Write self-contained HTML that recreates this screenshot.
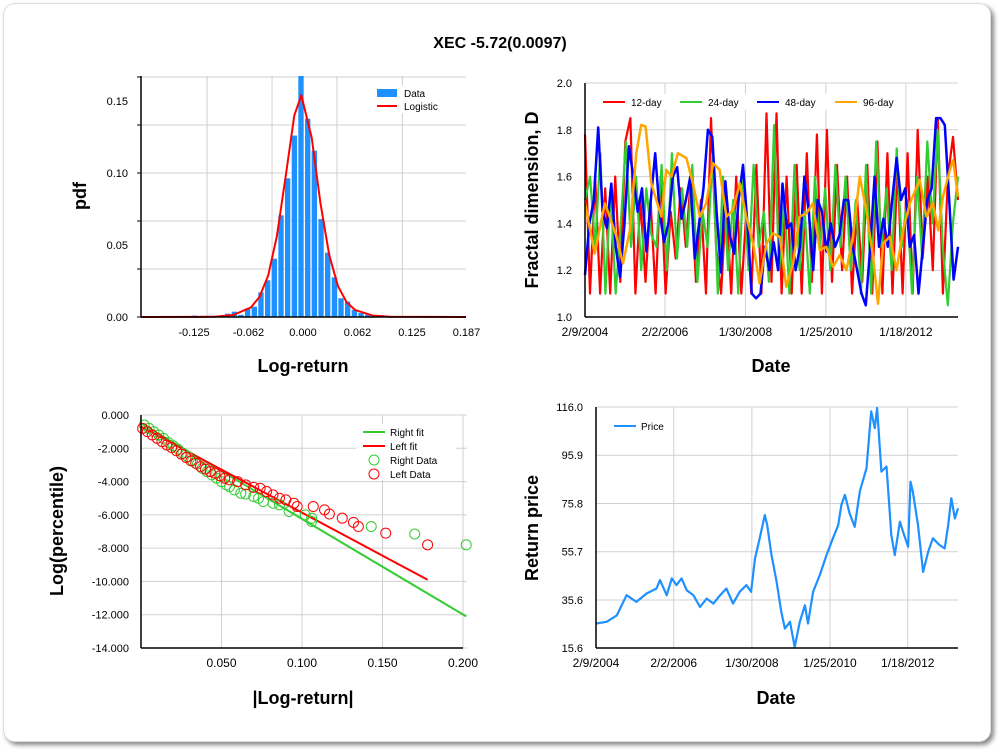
<!DOCTYPE html>
<html><head><meta charset="utf-8"><style>
body{margin:0;background:#fff;width:1000px;height:750px;overflow:hidden;font-family:"Liberation Sans",sans-serif}
#frame{position:absolute;left:3px;top:3px;width:986px;height:737px;border:1px solid #ddd;border-radius:12px;box-shadow:3px 3px 5px #888;background:#fff}
svg{position:absolute;left:0;top:0}
text{font-family:"Liberation Sans",sans-serif}
</style></head><body>
<div id="frame"></div>
<svg id="s" width="1000" height="750"></svg>
<script>
// ---- histogram data ----
const histCenters=[-0.1246,-0.0940,-0.0864,-0.0787,-0.0711,-0.0635,-0.0558,-0.0482,-0.0405,-0.0329,-0.0252,-0.0176,-0.0099,-0.0023,0.0054,0.0130,0.0207,0.0283,0.0360,0.0436,0.0512,0.0589,0.0665,0.0742,0.0818,0.0895,0.1200,0.1500];
const histValues=[0.001,0.001,0.0023,0.0037,0.0015,0.006,0.0072,0.0171,0.0255,0.0405,0.0706,0.0963,0.126,0.17,0.1377,0.1155,0.068,0.0447,0.0275,0.013,0.0107,0.005,0.0028,0.0016,0.001,0.0014,0.0005,0.0005];
const fitX=[-0.186,-0.12,-0.10,-0.08,-0.06,-0.05,-0.04,-0.03,-0.02,-0.01,-0.002,0.01,0.02,0.03,0.04,0.05,0.06,0.08,0.10,0.187];
const fitY=[0,0.0001,0.0003,0.0014,0.0065,0.0138,0.0286,0.0558,0.0973,0.140,0.154,0.1246,0.0793,0.0431,0.0215,0.0103,0.0048,0.001,0.0002,0];
const pdfXTicks=[-0.125,-0.0625,0,0.0625,0.125,0.1875];
const pdfXLabels=["-0.125","-0.062","0.000","0.062","0.125","0.187"];
const pdfYTicks=[0,0.05,0.10,0.15];
const pdfYLabels=["0.00","0.05","0.10","0.15"];
// ---- fractal dimension data ----
const fdStart=2004.11, fdEnd=2013.34;
const red12=[1.78,1.1,1.6,1.1,1.55,1.1,1.6,1.15,1.75,1.85,1.1,1.5,1.15,1.5,1.1,1.6,1.1,1.45,1.25,1.55,1.3,1.6,1.15,1.5,1.1,1.85,1.3,1.1,1.5,1.1,1.6,1.1,1.45,1.1,1.65,1.1,1.87,1.15,1.87,1.1,1.6,1.1,1.65,1.1,1.7,1.15,1.78,1.1,1.8,1.15,1.65,1.2,1.6,1.1,1.5,1.15,1.65,1.1,1.75,1.1,1.7,1.1,1.65,1.1,1.7,1.1,1.8,1.25,1.6,1.2,1.85,1.1,1.6,1.77,1.5];
const green24=[1.5,1.6,1.3,1.7,1.1,1.55,1.1,1.4,1.75,1.3,1.6,1.2,1.55,1.35,1.3,1.65,1.2,1.7,1.25,1.55,1.3,1.65,1.15,1.45,1.3,1.7,1.1,1.6,1.2,1.5,1.1,1.6,1.2,1.65,1.3,1.45,1.15,1.82,1.2,1.5,1.1,1.65,1.2,1.45,1.1,1.6,1.3,1.55,1.2,1.65,1.3,1.6,1.2,1.5,1.1,1.65,1.1,1.75,1.3,1.55,1.2,1.72,1.3,1.5,1.1,1.6,1.25,1.75,1.4,1.8,1.3,1.05,1.4,1.6];
const blue48=[1.18,1.4,1.5,1.81,1.45,1.38,1.57,1.3,1.17,1.4,1.73,1.6,1.45,1.55,1.28,1.5,1.7,1.45,1.32,1.4,1.6,1.64,1.42,1.5,1.6,1.25,1.4,1.55,1.8,1.77,1.45,1.19,1.58,1.35,1.27,1.5,1.65,1.4,1.1,1.08,1.1,1.3,1.2,1.32,1.2,1.57,1.38,1.4,1.2,1.3,1.6,1.45,1.2,1.5,1.45,1.28,1.4,1.3,1.35,1.5,1.5,1.3,1.2,1.1,1.05,1.3,1.6,1.3,1.42,1.3,1.5,1.68,1.5,1.55,1.3,1.35,1.1,1.3,1.5,1.55,1.85,1.85,1.82,1.5,1.16,1.3];
const orange96Dates=[2004.11,2004.35,2004.60,2004.72,2004.89,2005.05,2005.22,2005.38,2005.50,2005.61,2005.75,2006.00,2006.12,2006.25,2006.41,2006.62,2006.78,2006.95,2007.11,2007.28,2007.44,2007.61,2007.77,2007.94,2008.10,2008.27,2008.43,2008.60,2008.76,2008.93,2009.09,2009.26,2009.42,2009.59,2009.75,2009.92,2010.08,2010.25,2010.41,2010.58,2010.74,2010.91,2011.07,2011.24,2011.36,2011.49,2011.65,2011.82,2011.98,2012.15,2012.39,2012.56,2012.72,2012.85,2012.97,2013.14,2013.22,2013.34];
const orange96=[1.486,1.271,1.486,1.429,1.343,1.229,1.371,1.7,1.821,1.814,1.571,1.429,1.629,1.6,1.7,1.679,1.571,1.429,1.486,1.657,1.629,1.429,1.457,1.571,1.429,1.314,1.143,1.314,1.357,1.343,1.129,1.229,1.429,1.443,1.486,1.286,1.3,1.214,1.264,1.2,1.343,1.6,1.457,1.257,1.057,1.314,1.343,1.2,1.371,1.486,1.586,1.429,1.486,1.371,1.514,1.629,1.671,1.514];
const dateTicks=[2004.11,2006.09,2008.08,2010.07,2012.05];
const dateLabels=["2/9/2004","2/2/2006","1/30/2008","1/25/2010","1/18/2012"];
const fdYTicks=[1.0,1.2,1.4,1.6,1.8,2.0];
// ---- tail data ----
const rightX=[0.002,0.005,0.008,0.011,0.014,0.017,0.02,0.023,0.026,0.029,0.032,0.035,0.038,0.041,0.044,0.047,0.05,0.053,0.055,0.058,0.062,0.065,0.07,0.073,0.076,0.082,0.086,0.092,0.102,0.106,0.106,0.143,0.17,0.202];
const rightY=[-0.6,-0.8,-1.0,-1.2,-1.4,-1.65,-1.85,-2.05,-2.3,-2.5,-2.75,-2.95,-3.2,-3.4,-3.6,-3.8,-4.0,-4.2,-4.3,-4.5,-4.7,-4.75,-4.9,-5.0,-5.2,-5.3,-5.4,-5.8,-6.0,-6.2,-6.4,-6.7,-7.15,-7.8];
const leftX=[0.001,0.004,0.007,0.01,0.013,0.016,0.019,0.022,0.025,0.028,0.031,0.034,0.037,0.04,0.043,0.046,0.049,0.052,0.055,0.06,0.065,0.07,0.074,0.078,0.082,0.086,0.09,0.095,0.097,0.107,0.114,0.117,0.125,0.132,0.135,0.152,0.178];
const leftY=[-0.8,-1.0,-1.2,-1.4,-1.6,-1.8,-1.95,-2.15,-2.35,-2.55,-2.75,-2.9,-3.1,-3.25,-3.4,-3.5,-3.65,-3.8,-3.9,-4.0,-4.2,-4.35,-4.4,-4.6,-4.8,-5.0,-5.1,-5.3,-5.5,-5.5,-5.7,-5.95,-6.2,-6.45,-6.7,-7.1,-7.8];
const rightFitX=[0,0.202], rightFitY=[-0.5,-12.1];
const leftFitX=[0,0.178], leftFitY=[-0.7,-9.9];
const tailXTicks=[0.05,0.10,0.15,0.20];
const tailXLabels=["0.050","0.100","0.150","0.200"];
const tailYTicks=[0,-2,-4,-6,-8,-10,-12,-14];
// ---- price data ----
const priceDates=[2004.11,2004.38,2004.64,2004.89,2005.14,2005.40,2005.65,2005.74,2005.91,2006.04,2006.16,2006.29,2006.42,2006.59,2006.76,2006.93,2007.10,2007.27,2007.43,2007.60,2007.77,2007.94,2008.06,2008.16,2008.28,2008.41,2008.47,2008.58,2008.71,2008.83,2008.92,2009.05,2009.17,2009.30,2009.43,2009.51,2009.64,2009.81,2009.98,2010.11,2010.28,2010.36,2010.45,2010.57,2010.70,2010.83,2011.00,2011.12,2011.21,2011.27,2011.38,2011.51,2011.59,2011.63,2011.72,2011.85,2011.93,2012.06,2012.12,2012.18,2012.31,2012.44,2012.57,2012.69,2012.86,2012.99,2013.08,2013.16,2013.25,2013.33];
const prices=[25.8,26.5,29.2,37.6,34.8,38.3,40.4,43.9,37.6,44.6,41.8,44.6,39.7,37.6,32.7,36.2,34.1,37.6,40.4,34.1,39.0,41.8,39.0,52.9,61.3,71.0,66.8,54.3,43.2,30.6,23.7,26.5,16.0,26.5,33.4,25.8,39.0,46.0,54.3,59.9,66.8,75.2,79.4,71.7,66.1,80.8,90.5,114.2,107.2,115.6,89.1,91.2,72.4,62.7,54.3,68.2,64.1,57.8,84.9,80.8,66.8,47.3,55.7,61.3,58.5,57.1,66.8,78.0,69.6,73.8];
const priceYTicks=[15.6,35.6,55.7,75.8,95.9,116.0];

const S=document.getElementById('s');const NS='http://www.w3.org/2000/svg';
function el(tag,attrs,parent){const e=document.createElementNS(NS,tag);for(const k in attrs)e.setAttribute(k,attrs[k]);(parent||S).appendChild(e);return e;}
function lin(d0,d1,p0,p1){return v=>p0+(v-d0)*(p1-p0)/(d1-d0);}
function txt(x,y,s,opt,name){const t=el('text',Object.assign({x:x,y:y,'font-size':11,fill:'#000'},opt||{}));t.textContent=s;

return t;}
function gline(x1,y1,x2,y2,name){const l=el('line',{x1:x1,y1:y1,x2:x2,y2:y2,stroke:'#d0d0d0','stroke-width':1});

return l;}
function axes(L,T,R,B,name){const g=el('g',{});


el('line',{x1:L,y1:T,x2:L,y2:B,stroke:'#000','stroke-width':1.5},g);el('line',{x1:L,y1:B,x2:R,y2:B,stroke:'#000','stroke-width':1.5},g);}
function path(xs,ys,sx,sy,color,w,name){let d='';for(let i=0;i<xs.length;i++)d+=(i?'L':'M')+sx(xs[i]).toFixed(1)+','+sy(ys[i]).toFixed(1);
const p=el('path',{d:d,fill:'none',stroke:color,'stroke-width':w,'stroke-linejoin':'round'});

return p;}

// title
txt(500,48,'XEC -5.72(0.0097)',{'font-size':16,'font-weight':'bold','text-anchor':'middle'},'chart-title');

// ===== Panel 1: histogram =====
(function(){const L=141,T=76,R=466,B=317;const sx=lin(0,0.0625,303,357.5),sy=lin(0,0.05,317,245);
for(let i=1;i<=5;i++){const v=i/30;const y=sy(v);if(y>=T)gline(L,y,R,y,'pdf-gridline-h');}
[-0.110,-0.0355,0.039,0.114].forEach(v=>gline(sx(v),T,sx(v),B,'pdf-gridline-v'));
const bw=0.00765*872*0.8;
histCenters.forEach((c,i)=>{let y=Math.max(T,sy(histValues[i]));const r=el('rect',{x:sx(c)-bw/2,y:y,width:bw,height:B-y,fill:'#1e90ff'});

});
path(fitX,fitY,sx,sy,'#f00',2,'logistic-fit-line');
axes(L,T,R,B,'pdf-axes');
pdfXTicks.forEach((v,i)=>{txt(sx(v),336,pdfXLabels[i],{'text-anchor':'middle'},'pdf-x-tick-label');});
pdfYTicks.forEach((v,i)=>{txt(128,sy(v)+4,pdfYLabels[i],{'text-anchor':'end'},'pdf-y-tick-label');});
for(let i=0;i<=5;i++){el('line',{x1:L-4,y1:sy(i/30),x2:L,y2:sy(i/30),stroke:'#000'});}
txt(303,372,'Log-return',{'font-size':18,'font-weight':'bold','text-anchor':'middle'},'pdf-x-axis-title');
txt(86,196,'pdf',{'font-size':18,'font-weight':'bold','text-anchor':'middle',transform:'rotate(-90 86 196)'},'pdf-y-axis-title');
el('rect',{x:372,y:85,width:80,height:28,fill:'#fff'});
el('rect',{x:377,y:89,width:20,height:8,fill:'#1e90ff'});txt(404,97,'Data',{'font-size':10},'legend-data');
el('line',{x1:377,y1:106,x2:397,y2:106,stroke:'#f00','stroke-width':2});txt(404,110,'Logistic',{'font-size':10},'legend-logistic');
})();

// ===== Panel 2: fractal dimension =====
(function(){const L=585,T=83,R=958,B=317;const sx=lin(2004.11,2013.34,L,R),sy=lin(1,2,B,T);
fdYTicks.forEach(v=>{gline(L,sy(v),R,sy(v),'fd-gridline-h');txt(572,sy(v)+4,v.toFixed(1),{'text-anchor':'end'},'fd-y-tick-label');});
dateTicks.forEach((v,i)=>{gline(sx(v),T,sx(v),B,'fd-gridline-v');txt(sx(v),336,dateLabels[i],{'text-anchor':'middle','font-size':12},'fd-x-tick-label');});
function uni(vals){const d=[];for(let i=0;i<vals.length;i++)d.push(fdStart+(fdEnd-fdStart)*i/(vals.length-1));return d;}
path(uni(red12),red12,sx,sy,'#ff0000',2.2,'series-12-day');
path(uni(green24),green24,sx,sy,'#33cc33',2.2,'series-24-day');
path(uni(blue48),blue48,sx,sy,'#0000ff',2.5,'series-48-day');
path(orange96Dates,orange96,sx,sy,'#ffa500',2.5,'series-96-day');
axes(L,T,R,B,'fd-axes');
txt(771,372,'Date',{'font-size':18,'font-weight':'bold','text-anchor':'middle'},'fd-x-axis-title');
txt(538,200,'Fractal dimension, D',{'font-size':18,'font-weight':'bold','text-anchor':'middle',transform:'rotate(-90 538 200)'},'fd-y-axis-title');
const leg=[['12-day','#ff0000',603],['24-day','#33cc33',680],['48-day','#0000ff',757],['96-day','#ffa500',835]];
el('rect',{x:598,y:94,width:300,height:16,fill:'#fff'});
leg.forEach(l=>{el('line',{x1:l[2],y1:102,x2:l[2]+22,y2:102,stroke:l[1],'stroke-width':2});txt(l[2]+28,106,l[0],{'font-size':10},'legend-'+l[0]);});
})();

// ===== Panel 3: tails =====
(function(){const L=141,T=415,R=463,B=648;const sx=lin(0,0.2,141,463),sy=lin(0,-14,415,648);
tailYTicks.forEach(v=>{gline(L,sy(v),R+4,sy(v),'tail-gridline-h');txt(129,sy(v)+4,v.toFixed(3),{'text-anchor':'end'},'tail-y-tick-label');});
tailXTicks.forEach((v,i)=>{gline(sx(v),T,sx(v),B,'tail-gridline-v');txt(sx(v),667,tailXLabels[i],{'text-anchor':'middle','font-size':12},'tail-x-tick-label');});
path(rightFitX,rightFitY,sx,sy,'#33cc33',2,'right-fit-line');
path(leftFitX,leftFitY,sx,sy,'#ff0000',2,'left-fit-line');
rightX.forEach((x,i)=>{const c=el('circle',{cx:sx(x),cy:sy(rightY[i]),r:5,fill:'none',stroke:'#33cc33','stroke-width':1});

});
leftX.forEach((x,i)=>{const c=el('circle',{cx:sx(x),cy:sy(leftY[i]),r:5,fill:'none',stroke:'#ff0000','stroke-width':1});

});
axes(L,T,R,B,'tail-axes');
txt(303,704,'|Log-return|',{'font-size':18,'font-weight':'bold','text-anchor':'middle'},'tail-x-axis-title');
txt(63,531,'Log(percentile)',{'font-size':18,'font-weight':'bold','text-anchor':'middle',transform:'rotate(-90 63 531)'},'tail-y-axis-title');
el('rect',{x:356,y:424,width:100,height:56,fill:'#fff'});
el('line',{x1:363,y1:432,x2:385,y2:432,stroke:'#33cc33','stroke-width':2});txt(390,436,'Right fit',{'font-size':10},'legend-right-fit');
el('line',{x1:363,y1:446,x2:385,y2:446,stroke:'#ff0000','stroke-width':2});txt(390,450,'Left fit',{'font-size':10},'legend-left-fit');
el('circle',{cx:374,cy:460,r:5,fill:'none',stroke:'#33cc33'});txt(390,464,'Right Data',{'font-size':10},'legend-right-data');
el('circle',{cx:374,cy:474,r:5,fill:'none',stroke:'#ff0000'});txt(390,478,'Left Data',{'font-size':10},'legend-left-data');
})();

// ===== Panel 4: price =====
(function(){const L=596,T=407,R=958,B=648;const sx=lin(2004.11,2013.33,L,R),sy=lin(15.6,116,B,T);
priceYTicks.forEach(v=>{gline(L,sy(v),R,sy(v),'price-gridline-h');txt(583,sy(v)+4,v.toFixed(1),{'text-anchor':'end'},'price-y-tick-label');});
dateTicks.forEach((v,i)=>{gline(sx(v),T,sx(v),B,'price-gridline-v');txt(sx(v),667,dateLabels[i],{'text-anchor':'middle','font-size':12},'price-x-tick-label');});
path(priceDates,prices,sx,sy,'#1e90ff',2.2,'price-line');
axes(L,T,R,B,'price-axes');
txt(776,704,'Date',{'font-size':18,'font-weight':'bold','text-anchor':'middle'},'price-x-axis-title');
txt(538,528,'Return price',{'font-size':18,'font-weight':'bold','text-anchor':'middle',transform:'rotate(-90 538 528)'},'price-y-axis-title');
el('rect',{x:610,y:418,width:60,height:16,fill:'#fff'});
el('line',{x1:614,y1:426,x2:636,y2:426,stroke:'#1e90ff','stroke-width':2});txt(641,430,'Price',{'font-size':10},'legend-price');
})();
</script>
</body></html>
